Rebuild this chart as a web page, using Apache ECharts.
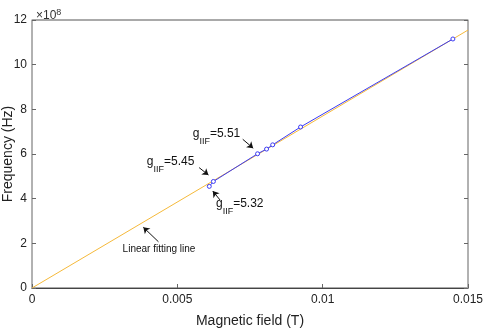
<!DOCTYPE html>
<html>
    <head>
        <meta charset="utf-8">
        <script src="https://cdn.jsdelivr.net/npm/echarts@6/dist/echarts.min.js"></script>
        <style>
            body { margin: 0; background: #fff; }
            #chart { width: 485px; height: 332px; }
        </style>
    </head>
    <body>
        <div id="chart"></div>
        <script type="text/javascript">

            // measured points (field in T, frequency in Hz)
            const fieldT = [0.0061, 0.00624, 0.00776, 0.00807, 0.00828, 0.00924, 0.01448];
            const freqHz = [4.55e8, 4.77e8, 6.01e8, 6.22e8, 6.41e8, 7.21e8, 11.15e8];

            // linear fit, drawn across the axis
            const fitField = [0, 0.015];
            const fitFreq = [0, 11.55e8];

            // annotations: text, text anchor, arrow tail, arrow head
            const noteText = ['5.51', '5.45', '5.32'];
            const noteAt = [[0.00553, 6.76e8], [0.00395, 5.51e8], [0.00633, 3.63e8]];
            const noteArrows = [
                [[0.00725, 6.66e8], [0.00761, 6.26e8]],
                [[0.00575, 5.39e8], [0.00607, 5.06e8]],
                [[0.00647, 3.94e8], [0.00622, 4.34e8]],
                [[0.00435, 2.07e8], [0.00383, 2.72e8]]
            ];
            const fitNote = 'Linear fitting line';
            const fitNoteAt = [0.00437, 1.75e8];

            const xTicks = ['0', '0.005', '0.01', '0.015'];

            const font = 'Liberation Sans, Arial, sans-serif';
            const myChart = echarts.init(document.getElementById('chart'));

            const labelPoints = noteText.map((t, i) => ({
                coord: noteAt[i],
                value: t,
                label: {
                    show: true,
                    position: 'inside',
                    align: 'left',
                    formatter: '{g|g}{s|IIF}{g|=' + t + '}',
                    rich: {
                        g: { fontSize: 12, color: '#111', fontFamily: font, verticalAlign: 'top', lineHeight: 18 },
                        s: { fontSize: 9, color: '#111', fontFamily: font, verticalAlign: 'bottom', lineHeight: 18 }
                    }
                }
            }));
            labelPoints.push({
                coord: fitNoteAt,
                label: {
                    show: true,
                    position: 'inside',
                    formatter: fitNote,
                    fontSize: 10,
                    color: '#111',
                    fontFamily: font
                }
            });

            // ticks point into the plot: negative length
            const tickIn = { inside: false, length: -4, lineStyle: { color: '#666' } };

            const option = {
                animation: false,
                backgroundColor: '#fff',
                title: {
                    text: '×10{sup|8}',
                    left: 31,
                    top: 3,
                    textStyle: {
                        fontSize: 12,
                        fontWeight: 'normal',
                        color: '#333',
                        fontFamily: font,
                        rich: { sup: { fontSize: 9, color: '#333', fontFamily: font, verticalAlign: 'top', padding: [0, 0, 6, 0] } }
                    }
                },
                grid: {
                    left: 32, right: 17, top: 20, bottom: 44, containLabel: false, outerBoundsMode: 'none',
                    show: true, borderColor: '#555', borderWidth: 1
                },
                xAxis: [{
                    type: 'value',
                    min: 0, max: 0.015, interval: 0.005,
                    name: 'Magnetic field (T)',
                    nameLocation: 'middle',
                    nameGap: 26,
                    nameMoveOverlap: false,
                    nameTextStyle: { fontSize: 14, color: '#222', fontFamily: font },
                    axisLine: { lineStyle: { color: '#444' } },
                    axisTick: tickIn,
                    axisLabel: {
                        fontSize: 12, color: '#222', fontFamily: font, margin: 6,
                        formatter: v => xTicks[Math.round(v / 0.005)]
                    },
                    splitLine: { show: false }
                }],
                yAxis: [{
                    type: 'value',
                    min: 0, max: 12e8, interval: 2e8,
                    name: 'Frequency (Hz)',
                    nameLocation: 'middle',
                    nameGap: 17,
                    nameMoveOverlap: false,
                    nameTextStyle: { fontSize: 14, color: '#222', fontFamily: font },
                    axisLine: { show: true, lineStyle: { color: '#b5b5b5', width: 1.5 } },
                    axisTick: tickIn,
                    axisLabel: {
                        fontSize: 12, color: '#222', fontFamily: font, margin: 5,
                        formatter: v => String(Math.round(v / 1e8))
                    },
                    splitLine: { show: false }
                }, {
                    type: 'value', position: 'right',
                    min: 0, max: 12e8, interval: 2e8,
                    axisLine: { show: true, lineStyle: { color: '#b5b5b5', width: 1.5 } },
                    axisTick: tickIn,
                    axisLabel: { show: false },
                    splitLine: { show: false }
                }],
                series: [{
                    name: 'fit',
                    type: 'line',
                    data: fitField.map((x, i) => [x, fitFreq[i]]),
                    symbol: 'none',
                    lineStyle: { color: '#f5b93a', width: 1 },
                    z: 2,
                    markLine: {
                        silent: true,
                        symbol: ['none', 'arrow'],
                        symbolSize: 6,
                        label: { show: false },
                        lineStyle: { color: '#111', width: 1, type: 'solid' },
                        data: noteArrows.map(a => [{ coord: a[0] }, { coord: a[1] }])
                    },
                    markPoint: {
                        silent: true,
                        symbol: 'circle',
                        symbolSize: 0,
                        data: labelPoints
                    }
                }, {
                    name: 'measured',
                    type: 'line',
                    data: fieldT.map((x, i) => [x, freqHz[i]]),
                    symbol: 'circle',
                    symbolSize: 4,
                    showSymbol: true,
                    lineStyle: { color: '#3b3bf5', width: 1 },
                    itemStyle: { color: '#fff', borderColor: '#3b3bf5', borderWidth: 1 },
                    z: 3
                }]
            };

            myChart.setOption(option);
        </script>
    </body>
</html>
